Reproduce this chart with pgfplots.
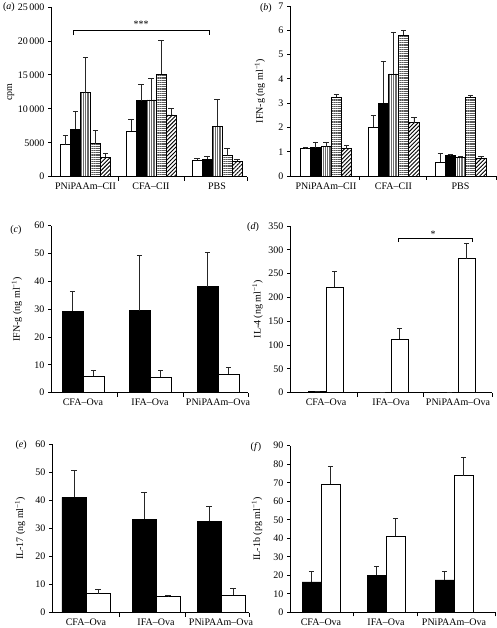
\documentclass[border=0pt]{standalone}
\usepackage{fontspec}
\setmainfont{Liberation Serif}
\usepackage{pgfplots}
\pgfplotsset{compat=1.18}
\usetikzlibrary{patterns.meta}

\pgfplotsset{
  panel/.style={
    scale only axis, anchor=south west,
    axis x line*=bottom, axis y line*=left,
    xmin=0, ymin=0, scaled y ticks=false,
    axis line style={black, line width=0.8pt},
    tick align=outside, major tick length=3pt, minor tick length=4pt,
    every tick/.style={black, line width=0.8pt},
    major x tick style={draw=none},
    tick label style={font=\fontsize{10}{12}\selectfont},
    every axis y label/.style={rotate=90, anchor=center, font=\fontsize{10}{12}\selectfont},
    clip=false,
  },
  eb/.style={error bars/y dir=plus, error bars/y explicit,
    error bars/error bar style={black!85, line width=0.8pt},
    error bars/error mark options={rotate=90, black!85, mark size=2.6pt, line width=0.9pt}},
  wbar/.style={ybar, bar shift=0pt, fill=white, draw=black, line width=0.8pt, eb},
  kbar/.style={ybar, bar shift=0pt, fill=black, draw=black, line width=0.8pt, eb},
  vbar/.style={ybar, bar shift=0pt, draw=black, line width=0.8pt, pattern={Lines[angle=90, distance=2.2pt, line width=1.2pt]}, pattern color=gray!85!black, eb},
  hbar/.style={ybar, bar shift=0pt, draw=black, line width=0.8pt, pattern={Lines[angle=0, distance=2.2pt, line width=1.3pt]}, pattern color=gray!70!black, eb},
  dbar/.style={ybar, bar shift=0pt, draw=black, line width=0.8pt, pattern={Lines[angle=45, distance=2.8pt, line width=0.9pt]}, pattern color=black, eb},
}
\newcommand{\plab}[1]{(\textit{#1})}

\begin{document}
\begin{tikzpicture}
\useasboundingbox (0,0) rectangle (497pt,628pt);

% (a)
\begin{axis}[panel, at={(51pt,451.3pt)}, width=196pt, height=169.7pt,
  xmax=196, ymax=25000,
  ytick={0,5000,10000,15000,20000,25000},
  yticklabels={0,5000,10\,000,15\,000,20\,000,25\,000},
  xtick={34.5,100,166}, xticklabels={PNiPAAm–CII,CFA–CII,PBS},
  minor xtick={67,133,196},
  ylabel={cpm}, ylabel style={at={(axis description cs:-0.205,0.5)}}]
\addplot[wbar, bar width=10pt] coordinates {(14.5,4700) +- (0,1430) (80,6700) +- (0,1740) (146,2400) +- (0,350)};
\addplot[kbar, bar width=10pt] coordinates {(24.5,7000) +- (0,2560) (90,11200) +- (0,2430) (156,2600) +- (0,450)};
\addplot[vbar, bar width=10pt] coordinates {(34.5,12400) +- (0,5100) (100,11300) +- (0,3200) (166,7400) +- (0,4000)};
\addplot[hbar, bar width=10pt] coordinates {(44.5,4850) +- (0,1900) (110,15100) +- (0,5000) (176,3100) +- (0,1000)};
\addplot[dbar, bar width=10pt] coordinates {(54.5,2850) +- (0,550) (120,9100) +- (0,1000) (186,2300) +- (0,300)};
\addplot[black, line width=0.8pt, no marks] coordinates {(22,20870) (22,21610) (158,21610) (158,20870)};
\node[font=\fontsize{10}{12}\selectfont] at (axis cs:90,22400) {***};
\node[font=\fontsize{10}{12}\selectfont] at (axis description cs:-0.215,1) {\plab{a}};
\end{axis}

% (b)
\begin{axis}[panel, at={(290pt,452pt)}, width=206pt, height=170pt,
  xmax=206, ymax=7,
  ytick={0,1,2,3,4,5,6,7}, yticklabels={0,1,2,3,4,5,6,7},
  xtick={36,103.5,170.5}, xticklabels={PNiPAAm–CII,CFA–CII,PBS},
  minor xtick={69,136,206},
  ylabel={IFN-g (ng ml\textsuperscript{−1})}, ylabel style={at={(axis description cs:-0.146,0.5)}}]
\addplot[wbar, bar width=10.2pt] coordinates {(15.6,1.12) +- (0,0.05) (83.1,2.0) +- (0,0.5) (150.1,0.56) +- (0,0.38)};
\addplot[kbar, bar width=10.2pt] coordinates {(25.8,1.17) +- (0,0.23) (93.3,3.0) +- (0,1.72) (160.3,0.84) +- (0,0.05)};
\addplot[vbar, bar width=10.2pt] coordinates {(36,1.2) +- (0,0.2) (103.5,4.2) +- (0,1.72) (170.5,0.76) +- (0,0.03)};
\addplot[hbar, bar width=10.2pt] coordinates {(46.2,3.25) +- (0,0.1) (113.7,5.8) +- (0,0.2) (180.7,3.25) +- (0,0.05)};
\addplot[dbar, bar width=10.2pt] coordinates {(56.4,1.13) +- (0,0.14) (123.9,2.19) +- (0,0.21) (190.9,0.73) +- (0,0.07)};
\node[font=\fontsize{10}{12}\selectfont] at (axis description cs:-0.117,0.99) {\plab{b}};
\end{axis}

% (c)
\begin{axis}[panel, at={(51pt,235.3pt)}, width=197pt, height=167pt,
  xmax=197, ymax=60,
  ytick={0,10,20,30,40,50,60}, yticklabels={0,10,20,30,40,50,60},
  xtick={32,99,167}, xticklabels={CFA–Ova,IFA–Ova,PNiPAAm–Ova},
  minor xtick={66,132,197},
  ylabel={IFN-g (ng ml\textsuperscript{−1})}, ylabel style={at={(axis description cs:-0.173,0.5)}}]
\addplot[kbar, bar width=21pt] coordinates {(21.5,29.2) +- (0,7.3) (88.5,29.5) +- (0,19.7) (156.5,38.1) +- (0,12.4)};
\addplot[wbar, bar width=21pt] coordinates {(42.5,5.9) +- (0,2.0) (109.5,5.6) +- (0,2.3) (177.5,6.7) +- (0,2.3)};
\node[font=\fontsize{10}{12}\selectfont] at (axis description cs:-0.178,0.975) {\plab{c}};
\end{axis}

% (d)
\begin{axis}[panel, at={(290pt,235.3pt)}, width=202pt, height=166.7pt,
  xmax=202, ymax=350,
  ytick={0,50,100,150,200,250,300,350}, yticklabels={0,50,100,150,200,250,300,350},
  xtick={36,101,168}, xticklabels={CFA–Ova,IFA–Ova,PNiPAAm–Ova},
  minor xtick={67,133,202},
  ylabel={IL-4 (ng ml\textsuperscript{−1})}, ylabel style={at={(axis description cs:-0.16,0.5)}}]
\addplot[kbar, bar width=17.5pt] coordinates {(27.25,2) +- (0,1) (92.25,0.6) +- (0,0) (159.25,1) +- (0,0.5)};
\addplot[wbar, bar width=17.5pt] coordinates {(44.75,222) +- (0,33) (109.75,112) +- (0,22) (176.75,281) +- (0,32)};
\addplot[black, line width=0.8pt, no marks] coordinates {(108,316) (108,324) (182,324) (182,316)};
\node[font=\fontsize{10}{12}\selectfont] at (axis cs:143,333) {*};
\node[font=\fontsize{10}{12}\selectfont] at (axis description cs:-0.183,0.995) {\plab{d}};
\end{axis}

% (e)
\begin{axis}[panel, at={(52pt,15.3pt)}, width=197pt, height=168.4pt,
  xmax=197, ymax=60,
  ytick={0,10,20,30,40,50,60}, yticklabels={0,10,20,30,40,50,60},
  xtick={34,104,169}, xticklabels={CFA–Ova,IFA–Ova,PNiPAAm–Ova},
  minor xtick={67,133,197},
  ylabel={IL-17 (ng ml\textsuperscript{−1})}, ylabel style={at={(axis description cs:-0.162,0.5)}}]
\addplot[kbar, bar width=24pt] coordinates {(22,41.1) +- (0,9.6) (92,33.3) +- (0,9.7) (157,32.5) +- (0,5.3)};
\addplot[wbar, bar width=24pt] coordinates {(46,6.7) +- (0,1.5) (116,5.7) +- (0,0.6) (181,6.2) +- (0,2.4)};
\node[font=\fontsize{10}{12}\selectfont] at (axis description cs:-0.157,0.995) {\plab{e}};
\end{axis}

% (f)
\begin{axis}[panel, at={(290pt,15.7pt)}, width=205pt, height=166.6pt,
  xmax=205, ymax=90,
  ytick={0,10,20,30,40,50,60,70,80,90}, yticklabels={0,10,20,30,40,50,60,70,80,90},
  xtick={31,96,164}, xticklabels={CFA–Ova,IFA–Ova,PNiPAAm–Ova},
  minor xtick={63,127,205},
  ylabel={IL-1b (pg ml\textsuperscript{−1})}, ylabel style={at={(axis description cs:-0.161,0.5)}}]
\addplot[kbar, bar width=19pt] coordinates {(21.5,16.4) +- (0,5.9) (86.5,20) +- (0,5) (154.5,17.5) +- (0,4.8)};
\addplot[wbar, bar width=19pt] coordinates {(40.5,69.1) +- (0,9.9) (105.5,41) +- (0,9.7) (173.5,73.8) +- (0,9.7)};
\node[font=\fontsize{10}{12}\selectfont] at (axis description cs:-0.166,0.99) {\plab{f}};
\end{axis}
\end{tikzpicture}
\end{document}
